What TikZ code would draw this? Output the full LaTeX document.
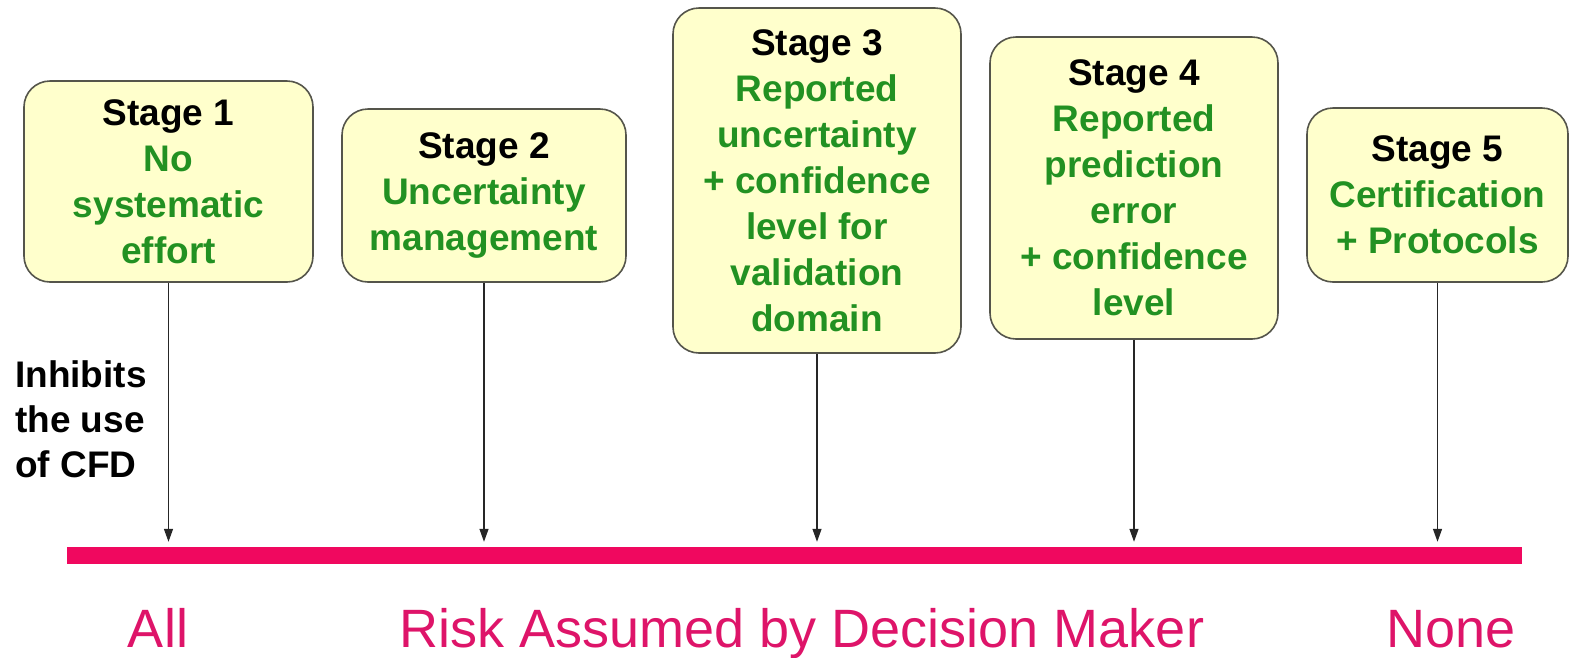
\documentclass[tikz,border=0pt]{standalone}
\usepackage{fontspec}
\setmainfont{Liberation Sans}
\usetikzlibrary{arrows.meta}
\definecolor{boxfill}{RGB}{255,255,204}
\definecolor{boxline}{RGB}{85,85,75}
\definecolor{stagegreen}{RGB}{34,145,34}
\definecolor{barpink}{RGB}{240,8,95}
\definecolor{textpink}{RGB}{222,20,105}
\begin{document}
\begin{tikzpicture}[x=1pt,y=-1pt,
  stagebox/.style={draw=boxline, line width=1.6pt, fill=boxfill, rounded corners=26pt,
    align=center, text=stagegreen, font=\bfseries\fontsize{37}{46}\selectfont, inner sep=0pt},
  arr/.style={draw=black!85, line width=1.3pt, -{Triangle[length=13pt,width=9pt]}, shorten >=5pt},
  risk/.style={text=textpink, font=\fontsize{54}{60}\selectfont, anchor=base, inner sep=0pt}]
\useasboundingbox (0,0) rectangle (1576,657);

\node[stagebox, minimum width=289pt, minimum height=201pt] (s1) at (168.5,181.5)
  {\textcolor{black}{Stage 1}\\No\\systematic\\effort};
\node[stagebox, minimum width=284pt, minimum height=173pt] (s2) at (484,195.5)
  {\textcolor{black}{Stage 2}\\Uncertainty\\management};
\node[stagebox, minimum width=288pt, minimum height=345pt] (s3) at (817,180.5)
  {\textcolor{black}{Stage 3}\\Reported\\uncertainty\\+ confidence\\level for\\validation\\domain};
\node[stagebox, minimum width=288pt, minimum height=302pt] (s4) at (1134,188)
  {\textcolor{black}{Stage 4}\\Reported\\prediction\\error\\+ confidence\\level};
\node[stagebox, minimum width=261pt, minimum height=174pt] (s5) at (1437.5,195)
  {\textcolor{black}{Stage 5}\\Certification\\+ Protocols};

\node[fill=barpink, minimum width=1455pt, minimum height=17pt, inner sep=0pt] (bar) at (794.5,555.5) {};

\foreach \s in {s1,s2,s3,s4,s5}
  \draw[arr] (\s.south) -- (\s.south |- bar.north);

\node[anchor=north west, align=left, font=\bfseries\fontsize{37}{45}\selectfont, inner sep=0pt] (inh) at (15,360)
  {Inhibits\\the use\\of CFD};

\node[risk] (all) at (158,647) {All};
\node[risk] (riskl) at (802,647) {Risk Assumed by Decision Maker};
\node[risk] (none) at (1451,647) {None};
\end{tikzpicture}
\end{document}
